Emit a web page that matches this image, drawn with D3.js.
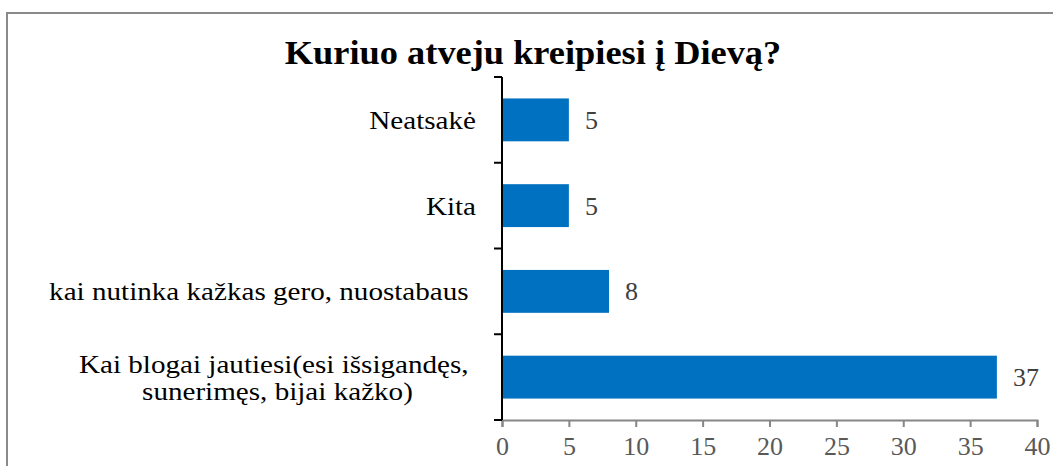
<!DOCTYPE html>
<html>
<head>
<meta charset="utf-8">
<script src="https://cdn.jsdelivr.net/npm/d3@7"></script>
<style>
  body { margin: 0; background: #fff; }
  svg text { font-family: "Liberation Serif", "Times New Roman", serif; }
</style>
</head>
<body>
<div id="chart"></div>
<script>
// chart data (top to bottom)
var categories = [
    ["Neatsakė"],
    ["Kita"],
    ["kai nutinka kažkas gero, nuostabaus "],
    ["Kai blogai jautiesi(esi išsigandęs, ", "sunerimęs, bijai kažko)"]
];
var values = [5, 5, 8, 37];
var xTicks = [0, 5, 10, 15, 20, 25, 30, 35, 40];
var title = "Kuriuo atveju kreipiesi į Dievą?";

var serif = "'Liberation Serif', 'Times New Roman', serif";
var width = 1053, height = 466;
var plotL = 502, plotR = 1037, plotT = 77, plotB = 420;
var stretch = 1.12; // source image is a bit wider than tall

var svg = d3.select("#chart").append("svg")
    .attr("width", width)
    .attr("height", height)
    .style("display", "block");

// outer frame (cut off on right / bottom like the source)
svg.append("rect")
    .attr("x", 7).attr("y", 13)
    .attr("width", width + 10).attr("height", height + 10)
    .attr("fill", "none")
    .attr("stroke", "#8a8a8a")
    .attr("stroke-width", 2);

svg.append("text")
    .attr("transform", "translate(533,64) scale(1.07,1)")
    .attr("text-anchor", "middle")
    .style("font-family", serif)
    .style("font-size", "34px")
    .style("font-weight", "bold")
    .text(title);

var x = d3.scaleLinear().domain([0, 40]).range([plotL, plotR]);
var y = d3.scaleBand().domain(d3.range(categories.length)).range([plotT, plotB]).paddingInner(0.5).paddingOuter(0.25);

// bars
svg.selectAll(".bar")
    .data(values)
    .enter().append("rect")
    .attr("class", "bar")
    .attr("x", x(0))
    .attr("y", function(d, i) { return y(i); })
    .attr("width", function(d) { return x(d) - x(0); })
    .attr("height", y.bandwidth())
    .attr("fill", "#0070c0");

// value labels
svg.selectAll(".val")
    .data(values)
    .enter().append("text")
    .attr("class", "val")
    .attr("x", function(d) { return x(d) + 16; })
    .attr("y", function(d, i) { return y(i) + y.bandwidth() / 2; })
    .attr("dy", "0.35em")
    .attr("fill", "#404040")
    .style("font-family", serif)
    .style("font-size", "26px")
    .text(function(d) { return d; });

// x axis
var xAxis = d3.axisBottom(x).tickValues(xTicks).tickSize(7).tickPadding(10);
var gx = svg.append("g")
    .attr("transform", "translate(0," + plotB + ")")
    .call(xAxis);
gx.select(".domain").attr("stroke", "#868686").attr("stroke-width", 2);
gx.selectAll(".tick line").attr("stroke", "#868686").attr("stroke-width", 2);
gx.selectAll(".tick text")
    .attr("fill", "#595959")
    .style("font-size", "26px")
    .style("font-family", serif);

// y axis: category separators
var step = (plotB - plotT) / categories.length;
var yEdges = d3.range(categories.length + 1).map(function(i) { return plotT + i * step; });
svg.append("line")
    .attr("x1", plotL).attr("x2", plotL)
    .attr("y1", plotT).attr("y2", plotB)
    .attr("stroke", "#000").attr("stroke-width", 2);
svg.selectAll(".ytick")
    .data(yEdges)
    .enter().append("line")
    .attr("x1", plotL - 8).attr("x2", plotL)
    .attr("y1", function(d) { return d; })
    .attr("y2", function(d) { return d; })
    .attr("stroke", "#000").attr("stroke-width", 2);

// category labels: right aligned block, lines centered inside block
var labelRight = 476, lineH = 27;
categories.forEach(function(lines, i) {
    var cy = y(i) + y.bandwidth() / 2;
    var g = svg.append("g");
    var texts = lines.map(function(t, k) {
        return g.append("text")
            .attr("dy", "0.35em")
            .attr("fill", "#000")
            .attr("text-anchor", "middle")
            .style("font-family", serif)
            .style("font-size", "26px")
            .style("white-space", "pre")
            .text(t);
    });
    var maxW = d3.max(texts, function(t) { return t.node().getComputedTextLength(); }) * stretch;
    texts.forEach(function(t, k) {
        var ty = cy + (k - (lines.length - 1) / 2) * lineH;
        t.attr("transform", "translate(" + (labelRight - maxW / 2) + "," + ty + ") scale(" + stretch + ",1)");
    });
});
</script>
</body>
</html>
